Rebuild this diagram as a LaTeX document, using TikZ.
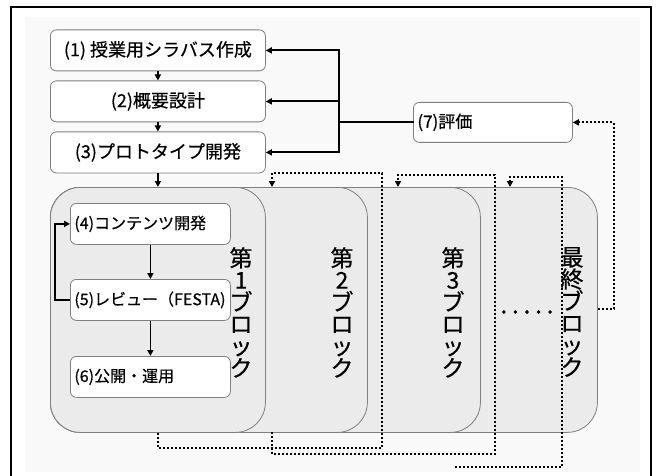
\documentclass[tikz,border=0pt]{standalone}
\usepackage{fontspec}
\setmainfont{Noto Sans CJK JP}[BoldFont=Noto Sans CJK JP, BoldFeatures={FakeBold=0.5}]
\usetikzlibrary{arrows.meta}
\definecolor{blockfill}{HTML}{EBEBEB}
\definecolor{edgegray}{HTML}{7F7F7F}
\definecolor{faintbg}{HTML}{F9F9F9}
\begin{document}
\begin{tikzpicture}[x=1pt,y=-1pt,
  every node/.style={font=\bfseries},
  stepbox/.style={draw=edgegray, line width=0.8pt, rounded corners=6pt, fill=white,
    inner sep=0pt, anchor=north west},
  bigstep/.style={stepbox, minimum width=215pt, minimum height=41pt,
    font=\fontsize{18}{18}\selectfont\bfseries},
  smallstep/.style={stepbox, text width=152pt, inner xsep=4pt, align=left,
    minimum height=41pt, font=\fontsize{16}{16}\selectfont\bfseries},
  blockbox/.style={draw=edgegray, line width=0.8pt, rounded corners=30pt,
    fill=blockfill, anchor=north west, inner sep=0pt, minimum height=245pt},
  blocklabel/.style={anchor=north, align=center, inner sep=0pt,
    font=\fontsize{23}{22}\selectfont\bfseries},
  conn/.style={line width=1.8pt, -{Triangle[length=6pt,width=6pt]}},
  plainline/.style={line width=1.8pt, line cap=rect},
  dotconn/.style={line width=2pt, dash pattern=on 2pt off 2pt,
    -{Triangle[length=6pt,width=6pt]}},
  dotline/.style={line width=2pt, dash pattern=on 2pt off 2pt}
]
\useasboundingbox (0,0) rectangle (656,476);
\fill[faintbg] (25,17) rectangle (640,472);
\draw[line width=2.5pt] (11,476) -- (11,7) -- (651,7) -- (651,476);

% blocks (back to front)
\node[blockbox, minimum width=547pt] (bL) at (50,187) {};
\node[blockbox, minimum width=430pt] (b3) at (50,187) {};
\node[blockbox, minimum width=317pt] (b2) at (50,187) {};
\node[blockbox, minimum width=215pt] (b1) at (50,187) {};

% top steps
\node[bigstep] (s1) at (50,29.5) {(1) 授業用シラバス作成};
\node[bigstep] (s2) at (50,80.5) {(2)概要設計};
\node[bigstep] (s3) at (50,131.5) {(3)プロトタイプ開発};

% evaluation
\node[stepbox, minimum width=159pt, minimum height=40pt, text width=151pt,
  inner xsep=4pt, align=left, font=\fontsize{17}{17}\selectfont\bfseries] (s7) at (413,102) {(7)評価};

% inner steps
\node[smallstep] (s4) at (70,203) {(4)コンテンツ開発};
\node[smallstep] (s5) at (70,279) {(5)レビュー（FESTA)};
\node[smallstep] (s6) at (70,356) {(6)公開・運用};

% block labels
\node[blocklabel] (l1) at (241,247) {第\\1\\ブ\\ロ\\ッ\\ク};
\node[blocklabel] (l2) at (342,247) {第\\2\\ブ\\ロ\\ッ\\ク};
\node[blocklabel] (l3) at (453,247) {第\\3\\ブ\\ロ\\ッ\\ク};
\node[blocklabel] (lL) at (572,247) {最\\終\\ブ\\ロ\\ッ\\ク};
\node[inner sep=0pt, font=\fontsize{26}{26}\selectfont\bfseries] (dots) at (527,312) {.\,.\,.\,.\,.};

% solid connectors
\coordinate (bus) at (339,0);
\draw[conn] (s1.south) -- (s2.north);
\draw[conn] (s2.south) -- (s3.north);
\draw[conn] (s3.south) -- (b1.north);
\draw[plainline] (s1.east -| bus) -- (s3.east -| bus);
\draw[plainline] (s7.west) -- (s7.west -| bus);
\draw[conn] (s1.east -| bus) -- (s1.east);
\draw[conn] (s2.east -| bus) -- (s2.east);
\draw[conn] (s3.east -| bus) -- (s3.east);
\draw[conn] (s4.south) -- (s5.north);
\draw[conn] (s5.south) -- (s6.north);
\draw[conn] (s5.west) -- ++(-15,0) |- (s4.west);

% dotted connectors
\coordinate (t2) at (272,187);
\coordinate (t3) at (398,187);
\coordinate (tL) at (510,187);
\coordinate (o2) at (272,432);
\coordinate (o3) at (455,467);
\draw[dotconn] (b1.south) -- ++(0,15) -| (382,173) -| (t2);
\draw[dotconn] (o2) -- ++(0,22) -| (495,175) -| (t3);
\draw[dotconn] (o3) -| (562,177) -| (tL);
\draw[dotconn] (bL.east |- 0,309) -- ++(16,0) |- (s7.east);
\end{tikzpicture}
\end{document}
